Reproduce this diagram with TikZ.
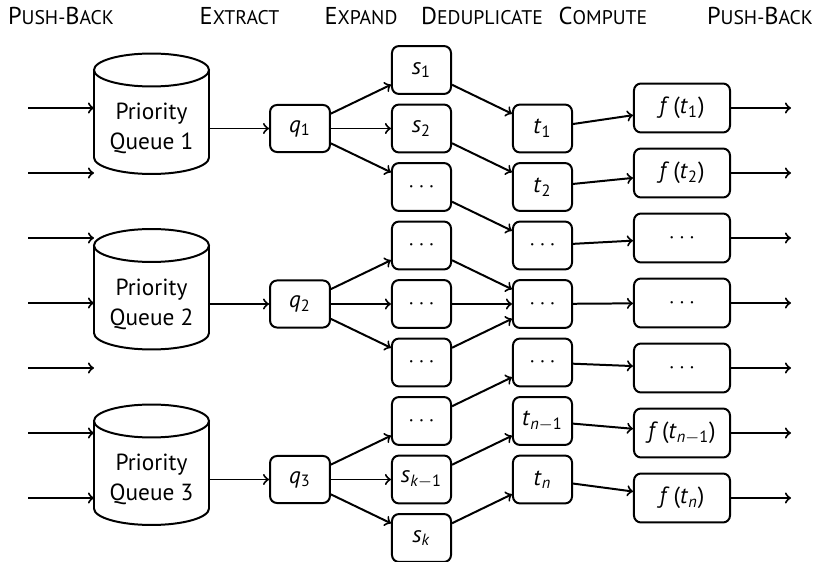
\documentclass[tikz,border=0pt]{standalone}
\usepackage{fontspec}
\setmainfont{PT Sans}
\usetikzlibrary{calc}
\newcommand\mi[1]{\textit{#1}}
\newcommand\sub[1]{\textsubscript{#1}}
\newcommand\hsc[2]{#1{\fontsize{9.4}{9.4}\selectfont\MakeUppercase{#2}}}
\begin{document}
\begin{tikzpicture}[x=0.476pt,y=-0.476pt,
  font=\fontsize{11.1}{14.3}\selectfont,
  box/.style={draw, line width=0.95pt, rounded corners=3.3pt, minimum width=28.1pt, minimum height=22.8pt, inner sep=0pt},
  fbox/.style={box, minimum width=45.7pt, minimum height=23.3pt},
  qbox/.style={box, minimum width=28.5pt, minimum height=22.4pt},
  qbody/.style={minimum width=54.74pt, inner sep=0pt, align=center},
  arr/.style={->, line width=0.95pt},
  hd/.style={anchor=base, font=\fontsize{11.6}{12}\selectfont}]
\useasboundingbox (0,0) rectangle (819,562);
% headings
\node[hd] (h1) at (61,25) {\hsc{P}{ush-}\hsc{B}{ack}};
\node[hd] (h2) at (239.5,25) {\hsc{E}{xtract}};
\node[hd] (h3) at (361,25) {\hsc{E}{xpand}};
\node[hd] (h4) at (482,25) {\hsc{D}{eduplicate}};
\node[hd] (h5) at (603,25) {\hsc{C}{ompute}};
\node[hd] (h6) at (760,25) {\hsc{P}{ush-}\hsc{B}{ack}};
% queues
\node[qbody] (Q1) at (151.5,128.5) {Priority\\Queue 1};
\node[qbody] (Q2) at (151.5,304) {Priority\\Queue 2};
\node[qbody] (Q3) at (151.5,479.5) {Priority\\Queue 3};
\foreach \Q in {Q1,Q2,Q3}{
  \draw[line width=0.95pt] ($(\Q)+(-57.5,-58.5)$) -- ($(\Q)+(-57.5,29)$)
     arc[start angle=180, end angle=360, x radius=27.37pt, y radius=7.85pt]
     -- ($(\Q)+(57.5,-58.5)$);
  \draw[line width=0.95pt] ($(\Q)+(0,-58.5)$) ellipse[x radius=27.37pt, y radius=7.85pt];
}
% extract
\node[qbox] (q1) at (300,128.5) {\mi{q}\sub{1}};
\node[qbox] (q2) at (300,304) {\mi{q}\sub{2}};
\node[qbox] (q3) at (300,479.5) {\mi{q}\sub{3}};
% expand
\node[box] (s0) at (421.5,70) {\mi{s}\sub{1}};
\node[box] (s1) at (421.5,128.5) {\mi{s}\sub{2}};
\node[box] (s2) at (421.5,187) {$\cdots$};
\node[box] (s3) at (421.5,245.5) {$\cdots$};
\node[box] (s4) at (421.5,304) {$\cdots$};
\node[box] (s5) at (421.5,362.5) {$\cdots$};
\node[box] (s6) at (421.5,421) {$\cdots$};
\node[box] (s7) at (421.5,479.5) {\mi{s}\sub{\mi{k}$-$1}};
\node[box] (s8) at (421.5,538) {\mi{s}\sub{\mi{k}}};
% deduplicate
\node[box] (t1) at (542.5,128.5) {\mi{t}\sub{1}};
\node[box] (t2) at (542.5,187) {\mi{t}\sub{2}};
\node[box] (t3) at (542.5,245.5) {$\cdots$};
\node[box] (t4) at (542.5,304) {$\cdots$};
\node[box] (t5) at (542.5,362.5) {$\cdots$};
\node[box] (t6) at (542.5,421) {\mi{t}\sub{\mi{n}$-$1}};
\node[box] (t7) at (542.5,479.5) {\mi{t}\sub{\mi{n}}};
% compute
\node[fbox] (f1) at (682,108) {\mi{f}\,(\mi{t}\sub{1})};
\node[fbox] (f2) at (682,173) {\mi{f}\,(\mi{t}\sub{2})};
\node[fbox] (f3) at (682,238) {$\cdots$};
\node[fbox] (f4) at (682,303) {$\cdots$};
\node[fbox] (f5) at (682,368) {$\cdots$};
\node[fbox] (f6) at (682,433) {\mi{f}\,(\mi{t}\sub{\mi{n}$-$1})};
\node[fbox] (f7) at (682,498) {\mi{f}\,(\mi{t}\sub{\mi{n}})};
% push-back coordinates
\foreach \i/\y in {1/108,2/173,3/238,4/303,5/368,6/433,7/498}{
  \coordinate (a\i) at (28,\y);
  \coordinate (b\i) at (94,\y);
  \coordinate (o\i) at (791,\y);
  \draw[arr] (a\i) -- (b\i);
  \draw[arr] (f\i) -- (o\i);
}
% connectors
\foreach \a/\b in {Q1/q1,Q2/q2,Q3/q3,
  q1/s0,q1/s1,q1/s2,q2/s3,q2/s4,q2/s5,q3/s6,q3/s7,q3/s8,
  s0/t1,s1/t2,s2/t3,s3/t4,s4/t4,s5/t4,s6/t5,s7/t6,s8/t7,
  t1/f1,t2/f2,t3/f3,t4/f4,t5/f5,t6/f6,t7/f7}
  \draw[arr] (\a) -- (\b);
\end{tikzpicture}
\end{document}
